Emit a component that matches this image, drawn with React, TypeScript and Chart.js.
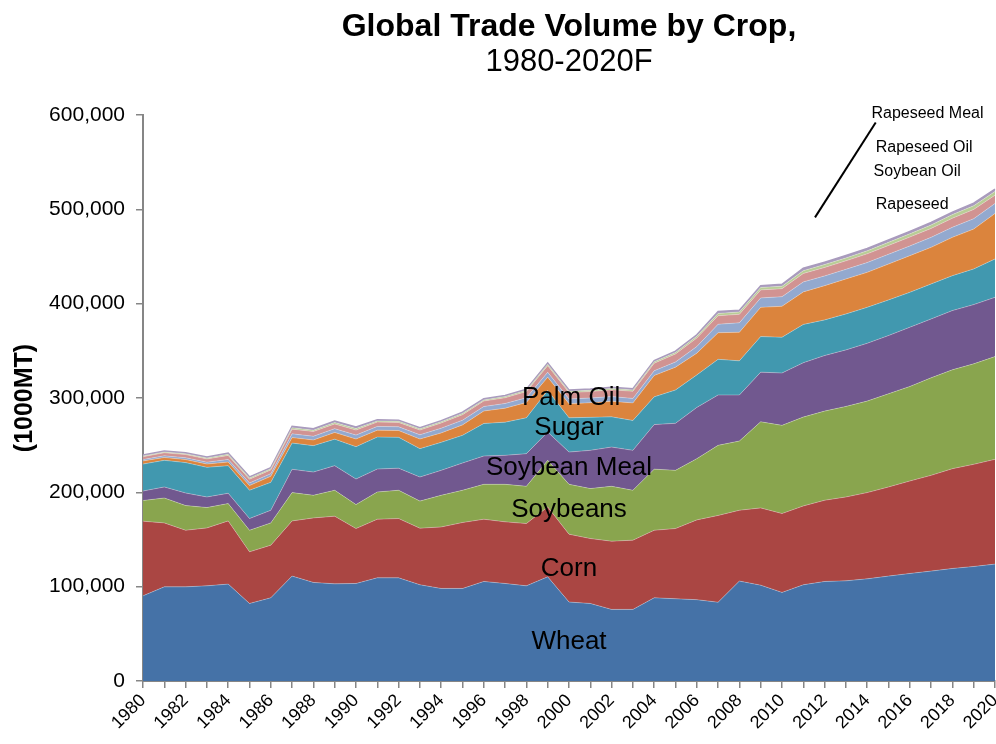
import React, { useEffect, useRef } from "react";
import { Chart, registerables } from "chart.js";

Chart.register(...registerables);

const FONT = "'Liberation Sans', Arial, Helvetica, sans-serif";

const years = [
  1980, 1981, 1982, 1983, 1984, 1985, 1986, 1987, 1988, 1989,
  1990, 1991, 1992, 1993, 1994, 1995, 1996, 1997, 1998, 1999,
  2000, 2001, 2002, 2003, 2004, 2005, 2006, 2007, 2008, 2009,
  2010, 2011, 2012, 2013, 2014, 2015, 2016, 2017, 2018, 2019, 2020,
];

const wheat = [
  90300, 99800, 99800, 100900, 102700, 82200, 88200, 111200, 104500, 103000,
  103400, 109400, 109400, 102000, 98100, 98100, 105500, 103400, 100900, 110400,
  83700, 82200, 75900, 75900, 88200, 87200, 86200, 83500, 105900, 101600,
  93900, 102000, 105500, 106200, 108300, 111200, 114000, 116500, 119300, 121400, 123900,
];
const corn = [
  79100, 67800, 60000, 61400, 67000, 54700, 55800, 58500, 68400, 71700,
  58200, 62100, 62800, 60000, 65200, 69900, 66000, 65300, 66000, 74100,
  71900, 68800, 72300, 73400, 71600, 74400, 84600, 92000, 75100, 81900,
  83600, 83600, 86100, 88900, 91400, 94500, 98000, 101500, 105800, 108300, 111100,
];
const soybeans = [
  21900, 26400, 26200, 21600, 18400, 22900, 23600, 30000, 24000, 27500,
  25400, 28900, 30000, 28700, 33600, 34200, 37000, 39800, 39500, 49400,
  52900, 53000, 58200, 52900, 64800, 61700, 64900, 74300, 73400, 91300,
  93500, 94200, 94500, 96000, 97000, 98800, 100200, 103400, 104800, 106500, 108900,
];
const soybeanMeal = [
  10100, 11700, 13300, 11200, 10900, 12400, 13400, 24700, 24600, 26100,
  27100, 24300, 23400, 25500, 26400, 28900, 30000, 30700, 34600, 30000,
  34200, 40500, 41600, 42300, 47200, 49900, 54300, 53400, 48800, 52600,
  55500, 57600, 58900, 59900, 61300, 61700, 62800, 62400, 62800, 62800, 62800,
];
const sugar = [
  28600, 28200, 32200, 31400, 29300, 30000, 29600, 27800, 28000, 28100,
  34300, 33900, 32700, 30100, 29700, 29300, 34500, 35200, 38000, 44100,
  36300, 35000, 32000, 31700, 29400, 35300, 34500, 37800, 36200, 37700,
  37900, 40600, 37800, 38100, 38100, 37800, 37000, 37100, 37000, 37800, 40700,
];
const palmOil = [
  3300, 3000, 3200, 3500, 3800, 5000, 6400, 5800, 6000, 7100,
  8100, 7300, 7200, 10200, 10000, 11100, 13200, 14800, 16300, 14100,
  15000, 15500, 16500, 18600, 22700, 24200, 23000, 28200, 30300, 31000,
  32800, 34500, 36300, 37100, 37100, 38000, 38900, 38800, 40600, 42300, 48200,
];
const rapeseed = [
  1500, 1800, 2000, 2000, 2800, 2800, 2800, 4000, 4000, 4000,
  4200, 4000, 4000, 4500, 5000, 5000, 4800, 5000, 5000, 5200,
  5000, 5000, 5000, 4800, 5000, 5500, 7000, 9000, 10000, 10000,
  10200, 10600, 10300, 10200, 10400, 10400, 10300, 10600, 10700, 11000, 10600,
];
const soybeanOil = [
  3000, 3200, 3300, 3400, 4200, 4000, 4000, 5000, 5000, 5000,
  5300, 4600, 4600, 5000, 5500, 5800, 5800, 6000, 6500, 7000,
  6700, 6800, 7200, 7500, 8000, 8500, 9000, 9000, 9000, 8500,
  8500, 8900, 9000, 9000, 9200, 9300, 9400, 9500, 9600, 9800, 8800,
];
const rapeseedOil = [
  800, 900, 900, 1000, 1200, 1200, 1200, 1500, 1400, 1500,
  1600, 1200, 1200, 1300, 1300, 1400, 1200, 1300, 1300, 1500,
  1500, 1400, 1500, 1400, 1500, 1600, 2000, 2500, 2500, 2600,
  2600, 3000, 3100, 3100, 3200, 3300, 3400, 3600, 3800, 3900, 4000,
];
const rapeseedMeal = [
  1000, 1100, 1100, 1100, 1300, 1200, 1200, 1500, 1500, 1500,
  1600, 1200, 1200, 1200, 1200, 1300, 1200, 1200, 1200, 1300,
  1300, 1300, 1300, 1300, 1300, 1300, 1500, 1900, 1800, 1900,
  2000, 2500, 2500, 2500, 2500, 2500, 2500, 2600, 2600, 2700, 2500,
];

const seriesNames = [
  "Wheat", "Corn", "Soybeans", "Soybean Meal", "Sugar", "Palm Oil",
  "Rapeseed", "Soybean Oil", "Rapeseed Oil", "Rapeseed Meal",
];
const seriesData = [
  wheat, corn, soybeans, soybeanMeal, sugar, palmOil,
  rapeseed, soybeanOil, rapeseedOil, rapeseedMeal,
];
const seriesColors = [
  "#4572A7", "#AA4643", "#89A54E", "#71588F", "#4198AF", "#DB843D",
  "#93A9CF", "#D19392", "#B9CD96", "#A99BBD",
];

const yTicks = [0, 100000, 200000, 300000, 400000, 500000, 600000];

const TITLE = "Global Trade Volume by Crop,";
const SUBTITLE = "1980-2020F";
const Y_TITLE = "(1000MT)";

// inner labels anchored in data space: [text, year index, value]
const innerLabels: [string, number, number][] = [
  ["Wheat", 20, 41000],
  ["Corn", 20, 119000],
  ["Soybeans", 20, 181000],
  ["Soybean Meal", 20, 225500],
  ["Sugar", 20, 268000],
  ["Palm Oil", 20.1, 299800],
];
// small right-side labels: [text, year index (left edge), value]
const sideLabels: [string, number, number][] = [
  ["Rapeseed Meal", 34.2, 601400],
  ["Rapeseed Oil", 34.4, 565000],
  ["Soybean Oil", 34.3, 540300],
  ["Rapeseed", 34.4, 505000],
];
const leader: [number, number, number, number] = [34.4, 592000, 31.55, 491500];

const annotationPlugin = {
  id: "annotations",
  afterDraw(chart: any) {
    const { ctx, chartArea } = chart;
    const x = chart.scales.x;
    const y = chart.scales.y;
    ctx.save();
    ctx.fillStyle = "#000";
    ctx.textAlign = "center";
    ctx.textBaseline = "middle";
    const cx = (chartArea.left + chartArea.right) / 2;
    ctx.font = `bold 32px ${FONT}`;
    ctx.fillText(TITLE, cx, 27);
    ctx.font = `31px ${FONT}`;
    ctx.fillText(SUBTITLE, cx, 62);

    ctx.save();
    ctx.translate(25, (chartArea.top + chartArea.bottom) / 2);
    ctx.rotate(-Math.PI / 2);
    ctx.font = `bold 25px ${FONT}`;
    ctx.fillText(Y_TITLE, 0, 0);
    ctx.restore();

    ctx.font = `26px ${FONT}`;
    for (const [t, i, v] of innerLabels) {
      ctx.fillText(t, x.getPixelForValue(i), y.getPixelForValue(v));
    }

    ctx.textAlign = "left";
    ctx.font = `16px ${FONT}`;
    for (const [t, i, v] of sideLabels) {
      ctx.fillText(t, x.getPixelForValue(i), y.getPixelForValue(v));
    }

    ctx.strokeStyle = "#000";
    ctx.lineWidth = 2;
    ctx.beginPath();
    ctx.moveTo(x.getPixelForValue(leader[0]), y.getPixelForValue(leader[1]));
    ctx.lineTo(x.getPixelForValue(leader[2]), y.getPixelForValue(leader[3]));
    ctx.stroke();
    ctx.restore();
  },
};

export default function App() {
  const ref = useRef<HTMLCanvasElement | null>(null);

  useEffect(() => {
    if (!ref.current) return;
    Chart.defaults.font.family = FONT;
    const chart = new Chart(ref.current, {
      type: "line",
      data: {
        labels: years.map(String),
        datasets: seriesData.map((d, i) => ({
          label: seriesNames[i],
          data: d,
          backgroundColor: seriesColors[i],
          borderColor: i === seriesData.length - 1 ? seriesColors[i] : "rgba(255,255,255,0.35)",
          borderWidth: i === seriesData.length - 1 ? 1.5 : 0.8,
          fill: i === 0 ? "origin" : "-1",
          pointRadius: 0,
          tension: 0,
        })),
      },
      options: {
        responsive: false,
        animation: false,
        devicePixelRatio: 1,
        layout: { padding: { top: 115, right: 1, left: 0, bottom: 0 } },
        plugins: {
          legend: { display: false },
          tooltip: { enabled: false },
          title: { display: false },
        },
        scales: {
          x: {
            offset: false,
            grid: {
              display: true,
              drawOnChartArea: false,
              drawTicks: true,
              tickLength: 7,
              tickColor: "#868686",
              lineWidth: 1.5,
            },
            border: { color: "#868686", width: 2 },
            ticks: {
              autoSkip: false,
              maxRotation: 45,
              minRotation: 45,
              padding: 2,
              color: "#000",
              font: { size: 18, family: FONT },
              callback: (_v: any, i: number) => (i % 2 === 0 ? String(years[i]) : ""),
            },
            afterFit: (s: any) => {
              s.height = 63;
              s.paddingLeft = 0;
              s.paddingRight = 0;
            },
          },
          y: {
            stacked: true,
            min: yTicks[0],
            max: yTicks[yTicks.length - 1],
            grid: {
              drawOnChartArea: false,
              tickLength: 7,
              tickColor: "#868686",
              lineWidth: 1.5,
            },
            border: { color: "#868686", width: 2 },
            afterBuildTicks: (s: any) => {
              s.ticks = yTicks.map((v) => ({ value: v }));
            },
            ticks: {
              padding: 11,
              color: "#000",
              font: { size: 21, family: FONT },
              callback: (v: any) => Number(v).toLocaleString("en-US"),
            },
            afterFit: (s: any) => {
              s.width = 143;
            },
          },
        },
      },
      plugins: [annotationPlugin],
    });
    return () => chart.destroy();
  }, []);

  return (
    <div style={{ position: "absolute", left: 0, top: 0, width: 996, height: 744, background: "#fff" }}>
      <canvas ref={ref} width={996} height={744} style={{ width: 996, height: 744, display: "block" }} />
    </div>
  );
}
